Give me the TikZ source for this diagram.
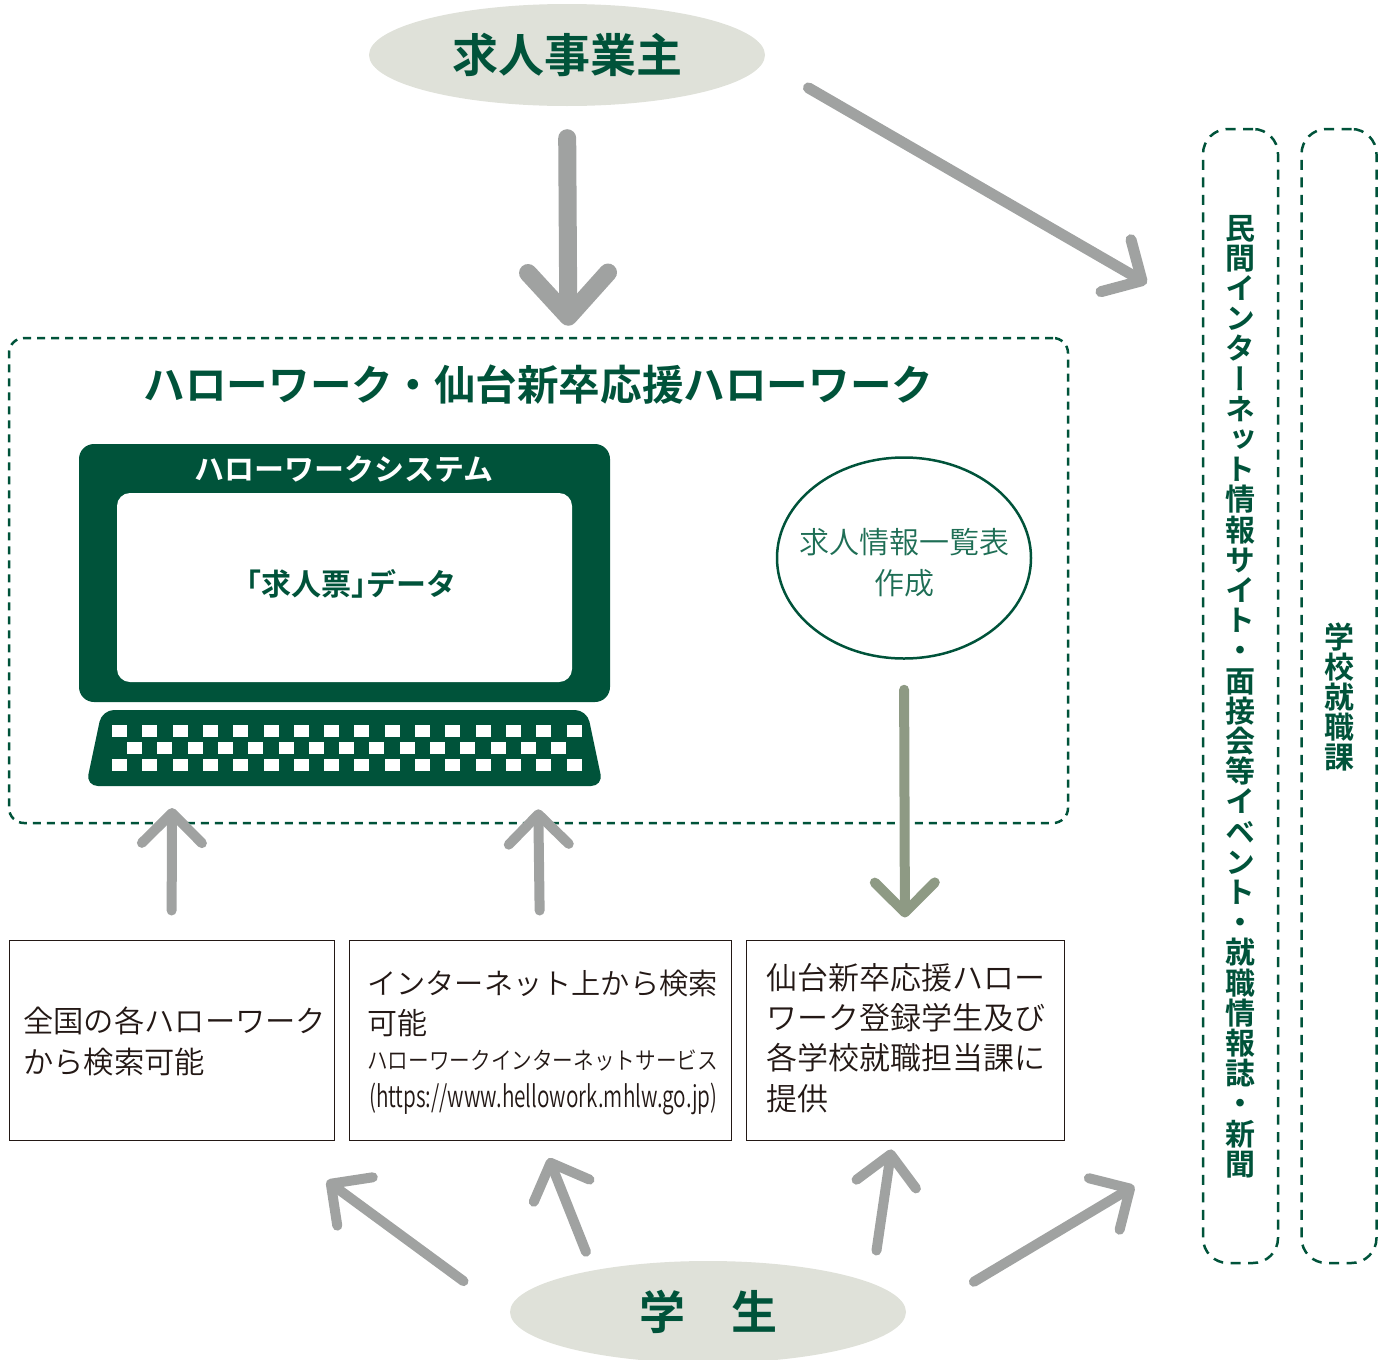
\documentclass[tikz,border=0pt]{standalone}
\usepackage{fontspec}
\usepackage{graphicx}
\usetikzlibrary{arrows.meta,shapes.geometric}
\setmainfont{Noto Sans CJK JP}[BoldFont={Noto Sans CJK JP Bold}]
\newfontfamily\lightjp{Noto Sans CJK JP DemiLight}
\newfontfamily\boldjp{Noto Sans CJK JP Bold}
\newfontfamily\vertjp[RawFeature=+vert]{Noto Sans CJK JP Bold}
\normallineskiplimit=-100pt
\lineskiplimit=-100pt
\definecolor{hwgreen}{RGB}{0,83,58}
\definecolor{softgreen}{RGB}{30,110,85}
\definecolor{oval}{RGB}{223,225,217}
\definecolor{arrowgray}{RGB}{160,162,161}
\definecolor{arrowolive}{RGB}{142,154,132}
\definecolor{boxline}{RGB}{35,24,21}
\tikzset{
  party/.style={ellipse, fill=oval, minimum width=396pt, minimum height=102pt, inner sep=0pt},
  partytext/.style={inner sep=0pt, text=hwgreen, font=\boldjp\fontsize{46}{46}\selectfont},
  region/.style={rectangle, rounded corners=15pt, draw=hwgreen, line width=2.5pt, dash pattern=on 8pt off 6pt, inner sep=0pt},
  panel/.style={rectangle, rounded corners=25pt, draw=hwgreen, line width=2.5pt, dash pattern=on 10pt off 7.5pt, inner sep=0pt, minimum width=75pt, minimum height=1134pt},
  vlabel/.style={inner sep=0pt, align=center, text=hwgreen, font=\vertjp\fontsize{30}{30.2}\selectfont},
  infobox/.style={rectangle, draw=boxline, line width=1pt, inner sep=0pt, minimum height=200pt},
  boxtext/.style={inner sep=0pt, anchor=west, align=left, text=boxline, font=\lightjp\fontsize{30}{40}\selectfont},
  bigarrow/.style={draw=arrowgray, line width=18pt, line cap=round, -{Straight Barb[round,length=44pt,width=80pt]}},
  thinarrow/.style={draw=arrowgray, line width=10pt, line cap=round, -{Straight Barb[round,length=30pt,width=60pt]}},
  olivearrow/.style={thinarrow, draw=arrowolive}
}
\begin{document}
\begin{tikzpicture}[x=1pt,y=-1pt]
  \useasboundingbox (0,0) rectangle (1387,1360);

  % Two parties
  \node[party] (employer) at (567,55) {};
  \node[partytext] (employerlabel) at (567,55) {求人事業主};
  \node[party] (student) at (708,1312) {};
  \node[partytext] (studentlabel) at (708,1312) {学　生};

  % Dashed area with the system inside
  \node[region, minimum width=1059pt, minimum height=485pt] (hwarea) at (538.5,580.5) {};
  \node[inner sep=0pt, text=hwgreen, font=\boldjp\fontsize{41.6}{42}\selectfont] (hwtitle) at (538.5,385) {ハローワーク・仙台新卒応援ハローワーク};

  \node[rectangle, rounded corners=15pt, fill=hwgreen, minimum width=531pt, minimum height=258pt, inner sep=0pt] (monitor) at (344.5,573) {};
  \node[rectangle, rounded corners=13pt, fill=white, minimum width=455pt, minimum height=189pt, inner sep=0pt] (screen) at (344.5,587.5) {};
  \node[inner sep=0pt, text=hwgreen, font=\boldjp\fontsize{30}{30}\selectfont] (screenlabel) at (351,584) {\kern-15pt「求人票」\kern-15pt データ};
  \node[inner sep=0pt, text=white, font=\boldjp\fontsize{30}{30}\selectfont] (systitle) at (344,469) {ハローワークシステム};

  % Keyboard
  \fill[hwgreen, rounded corners=12pt] (102,710) -- (587,710) -- (603,786) -- (86,786) -- cycle;
  \foreach \ky/\kx/\kn in {725/112/15, 742.3/127/14, 759/112/15}
    \foreach \k in {0,...,\kn}
      \fill[white] (\kx+30.3*\k,\ky) rectangle ++(15,11.5);

  \node[ellipse, draw=hwgreen, line width=2.5pt, minimum width=254pt, minimum height=201pt, inner sep=0pt] (sheet) at (904,558) {};
  \node[inner sep=0pt, align=center, text=softgreen, font=\lightjp\fontsize{30}{41}\selectfont] (sheetlabel) at (904,563) {求人情報一覧表\\作成};

  % Three boxes
  \node[infobox, minimum width=325pt] (box1) at (171.5,1040) {};
  \node[boxtext, font=\lightjp\fontsize{30.3}{40.5}\selectfont] (box1label) at (23,1041.5) {全国の各ハローワーク\\から検索可能};
  \node[infobox, minimum width=382pt] (box2) at (540,1040) {};
  \node[boxtext] (box2label) at (367,1043) {\fontsize{29.2}{40}\selectfont インターネット上から検索\\可能\\[-5pt]
    \scalebox{0.86}[1]{\fontsize{24}{40}\selectfont ハローワークインターネットサービス}\\[-2pt]
    \kern2pt\scalebox{0.693}[1]{\fontsize{30}{40}\selectfont (https://www.hellowork.mhlw.go.jp)}};
  \node[infobox, minimum width=318pt] (box3) at (905,1040) {};
  \node[boxtext, font=\lightjp\fontsize{31}{40.3}\selectfont] (box3label) at (766,1038) {仙台新卒応援ハロー\\ワーク登録学生及び\\各学校就職担当課に\\提供};

  % Right panels
  \node[panel] (sites) at (1240.5,696) {};
  \node[panel] (school) at (1339,696) {};
  \node[vlabel] (siteslabel) at (1240.5,696.5) {民\\間\\イ\\ン\\タ\\ー\\ネ\\ッ\\ト\\情\\報\\サ\\イ\\ト\\・\\面\\接\\会\\等\\イ\\ベ\\ン\\ト\\・\\就\\職\\情\\報\\誌\\・\\新\\聞};
  \node[vlabel] (schoollabel) at (1339,697) {学\\校\\就\\職\\課};

  % Free ends of the slanted arrows
  \coordinate (sitestop) at (1203,316);
  \coordinate (sitesbottom) at (1203,1145);
  \coordinate (hwarealeft) at (172,823);

  % Arrows
  \draw[bigarrow, shorten <=32pt, shorten >=11pt] (employer.south) -- (hwarea.83);
  \draw[thinarrow, line width=11pt, shorten <=52pt, shorten >=65pt] (employer.-2) -- (sitestop);
  \draw[thinarrow, shorten <=29pt, shorten >=-15pt] (box1.north) -- (hwarealeft);
  \draw[thinarrow, shorten <=29pt, shorten >=-15pt] (box2.north) -- (hwarea.south);
  \draw[olivearrow, shorten <=30pt, shorten >=22pt] (sheet.south) -- (box3.north);
  \draw[thinarrow, shorten <=58pt, shorten >=68pt] (student.181) -- (box1.-45);
  \draw[thinarrow, shorten <=20pt, shorten >=19pt] (student.160) -- (box2.271);
  \draw[thinarrow, shorten <=33pt, shorten >=9pt] (student.10) -- (box3.263);
  \draw[thinarrow, shorten <=91pt, shorten >=80pt] (student.-5) -- (sitesbottom);
\end{tikzpicture}
\end{document}
